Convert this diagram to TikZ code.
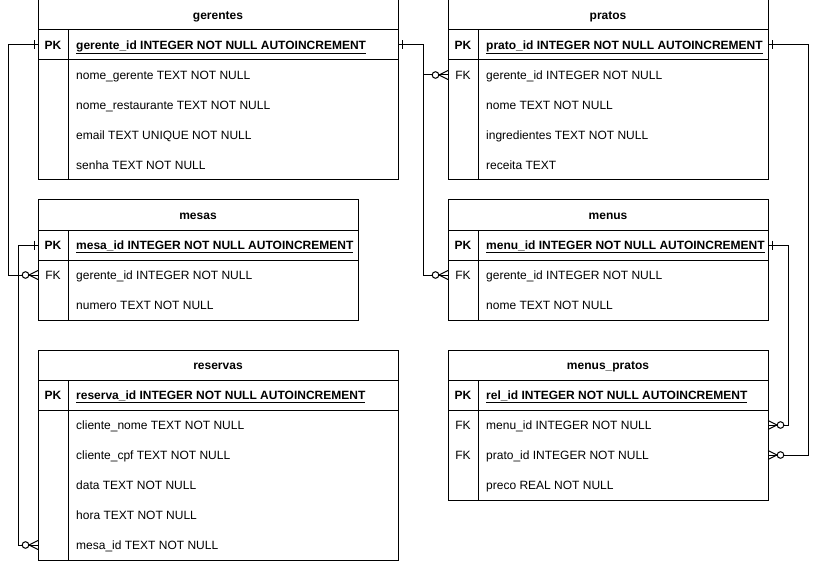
\documentclass[tikz,border=0pt]{standalone}
\usepackage{fontspec}
\setmainfont{Liberation Sans}
\tikzset{
  conn/.style={line width=1pt, draw=black},
  tbl/.style={line width=1pt, draw=black},
  rowbox/.style={minimum height=30pt, inner sep=0pt, outer sep=0pt, anchor=north west},
  keytxt/.style={anchor=base, inner sep=0pt, font=\fontsize{12}{14}\selectfont},
  fldtxt/.style={anchor=base west, inner sep=0pt, font=\fontsize{12}{14}\selectfont},
  ttl/.style={anchor=base, inner sep=0pt, font=\fontsize{12}{14}\selectfont\bfseries},
}
% table frame: name, x, y, width, number of field rows, title
\newcommand{\ertable}[6]{%
  \draw[tbl] (#2,#3) rectangle ++(#4,{30+30*#5});
  \node[rowbox, minimum width=#4pt] (#1) at (#2,#3) {};
  \node[ttl] (#1-t) at ([yshift=-4.5pt]#1.center) {#6};
  \draw[tbl] (#2,{#3+30}) -- ++(#4,0);
  \draw[tbl] (#2,{#3+60}) -- ++(#4,0);
  \draw[tbl] ({#2+30},{#3+30}) -- ({#2+30},{#3+30+30*#5});
}
% row: name, x, y, width, key, text
\newcommand{\errow}[6]{%
  \node[rowbox, minimum width=#4pt] (#1) at (#2,#3) {};
  \node[keytxt] (#1-k) at ([xshift=15pt,yshift=-4.5pt]#1.west) {#5};
  \node[fldtxt] (#1-f) at ([xshift=38pt,yshift=-4.5pt]#1.west) {#6};
}
\newcommand{\pkrow}[5]{\errow{#1}{#2}{#3}{#4}{\bfseries PK}{{\bfseries\underline{#5}}}}
% one-mark: anchor, direction (-1 west side, +1 east side)
\newcommand{\onemark}[2]{%
  \draw[conn] ([xshift=#2*4pt, yshift=4.5pt]#1) -- ([xshift=#2*4pt, yshift=-4.5pt]#1);
}
% zero-to-many mark
\newcommand{\zeromany}[2]{%
  \draw[conn] ([xshift=#2*9pt]#1) -- ([yshift=4.5pt]#1)
              ([xshift=#2*9pt]#1) -- ([yshift=-4.5pt]#1);
  \draw[conn, fill=white] ([xshift=#2*12.5pt]#1) circle (3.3);
}
\begin{document}
\begin{tikzpicture}[x=1pt, y=-1pt]
\fill[white] (0,0) rectangle (818,561);
\useasboundingbox (0,0) rectangle (818,561);

% gerentes
\ertable{g}{38}{0}{360}{5}{gerentes}
\pkrow{g1}{38}{30}{360}{gerente\_id INTEGER NOT NULL AUTOINCREMENT}
\errow{g2}{38}{60}{360}{}{nome\_gerente TEXT NOT NULL}
\errow{g3}{38}{90}{360}{}{nome\_restaurante TEXT NOT NULL}
\errow{g4}{38}{120}{360}{}{email TEXT UNIQUE NOT NULL}
\errow{g5}{38}{150}{360}{}{senha TEXT NOT NULL}

% pratos
\ertable{p}{448}{0}{320}{5}{pratos}
\pkrow{p1}{448}{30}{320}{prato\_id INTEGER NOT NULL AUTOINCREMENT}
\errow{p2}{448}{60}{320}{FK}{gerente\_id INTEGER NOT NULL}
\errow{p3}{448}{90}{320}{}{nome TEXT NOT NULL}
\errow{p4}{448}{120}{320}{}{ingredientes TEXT NOT NULL}
\errow{p5}{448}{150}{320}{}{receita TEXT}

% mesas
\ertable{m}{38}{200}{320}{3}{mesas}
\pkrow{m1}{38}{230}{320}{mesa\_id INTEGER NOT NULL AUTOINCREMENT}
\errow{m2}{38}{260}{320}{FK}{gerente\_id INTEGER NOT NULL}
\errow{m3}{38}{290}{320}{}{numero TEXT NOT NULL}

% menus
\ertable{n}{448}{200}{320}{3}{menus}
\pkrow{n1}{448}{230}{320}{menu\_id INTEGER NOT NULL AUTOINCREMENT}
\errow{n2}{448}{260}{320}{FK}{gerente\_id INTEGER NOT NULL}
\errow{n3}{448}{290}{320}{}{nome TEXT NOT NULL}

% reservas
\ertable{r}{38}{350}{360}{6}{reservas}
\pkrow{r1}{38}{380}{360}{reserva\_id INTEGER NOT NULL AUTOINCREMENT}
\errow{r2}{38}{410}{360}{}{cliente\_nome TEXT NOT NULL}
\errow{r3}{38}{440}{360}{}{cliente\_cpf TEXT NOT NULL}
\errow{r4}{38}{470}{360}{}{data TEXT NOT NULL}
\errow{r5}{38}{500}{360}{}{hora TEXT NOT NULL}
\errow{r6}{38}{530}{360}{}{mesa\_id TEXT NOT NULL}

% menus_pratos
\ertable{q}{448}{350}{320}{4}{menus\_pratos}
\pkrow{q1}{448}{380}{320}{rel\_id INTEGER NOT NULL AUTOINCREMENT}
\errow{q2}{448}{410}{320}{FK}{menu\_id INTEGER NOT NULL}
\errow{q3}{448}{440}{320}{FK}{prato\_id INTEGER NOT NULL}
\errow{q4}{448}{470}{320}{}{preco REAL NOT NULL}

% connectors
\draw[conn] (g1.west) -- ++(-30,0) |- (m2.west);
\draw[conn] (m1.west) -- ++(-20,0) |- (r6.west);
\draw[conn] (g1.east) -- ++(25,0) |- (p2.west);
\draw[conn] (g1.east) -- ++(25,0) |- (n2.west);
\draw[conn] (p1.east) -- ++(40,0) |- (q3.east);
\draw[conn] (n1.east) -- ++(20,0) |- (q2.east);

% end marks
\onemark{g1.west}{-1}
\onemark{m1.west}{-1}
\onemark{g1.east}{1}
\onemark{p1.east}{1}
\onemark{n1.east}{1}
\zeromany{m2.west}{-1}
\zeromany{r6.west}{-1}
\zeromany{p2.west}{-1}
\zeromany{n2.west}{-1}
\zeromany{q2.east}{1}
\zeromany{q3.east}{1}
\end{tikzpicture}
\end{document}
